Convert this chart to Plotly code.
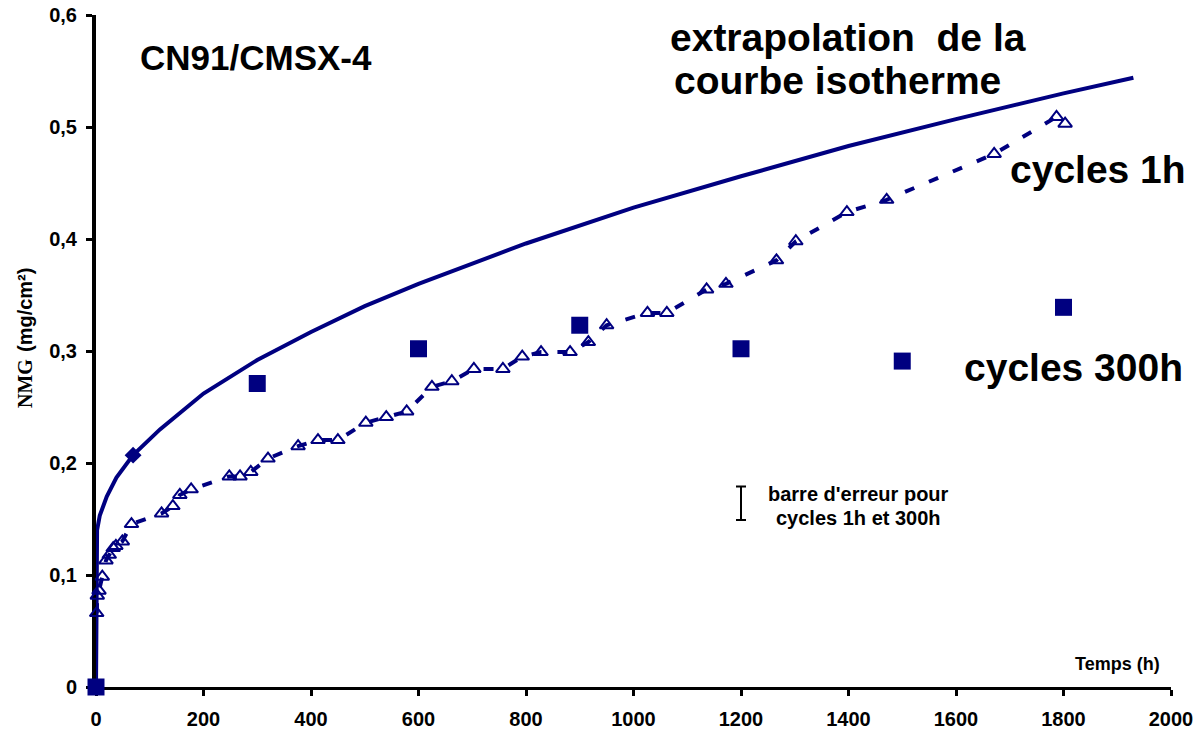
import plotly.graph_objects as go

# Isothermal oxidation curve (extrapolated), time in h, mass gain in mg/cm2
iso_t = [0, 0.3, 2, 7, 20, 38, 69, 119, 200, 300, 400, 500, 600, 800,
         1000, 1200, 1400, 1600, 1800, 1930]
iso_y = [0, 0.125, 0.14, 0.153, 0.170, 0.187, 0.207, 0.230, 0.262, 0.292,
         0.317, 0.340, 0.360, 0.396, 0.428, 0.456, 0.483, 0.507, 0.530, 0.544]

# Isothermal measured point
iso_pt_t = [69]
iso_pt_y = [0.207]

# 1 h cycles
c1_t = [1.3, 2.4, 5.6, 11.7, 18.6, 24.7, 32, 37, 49, 66, 122, 143, 156, 177,
        248, 268, 288, 320, 376, 413, 450, 502, 540, 578, 625, 662, 703, 757,
        793, 828, 882, 916, 950, 1026, 1062, 1136, 1172, 1266, 1302, 1397,
        1471, 1671, 1787, 1803]
c1_y = [0.066, 0.0815, 0.086, 0.0985, 0.113, 0.118, 0.124, 0.126, 0.130,
        0.1455, 0.155, 0.1615, 0.1715, 0.1765, 0.188, 0.188, 0.192, 0.204,
        0.215, 0.2205, 0.2205, 0.236, 0.241, 0.246, 0.268, 0.273, 0.284,
        0.284, 0.295, 0.299, 0.299, 0.308, 0.323, 0.334, 0.334, 0.355, 0.360,
        0.381, 0.398, 0.424, 0.435, 0.476, 0.509, 0.503]

# 300 h cycles
c300_t = [0, 300, 600, 900, 1200, 1500, 1800]
c300_y = [0, 0.271, 0.302, 0.323, 0.302, 0.291, 0.339]

# Error bar legend item
err_t = [1200]
err_y = [0.164]
err_half = [0.015]

x_ticks = [0, 200, 400, 600, 800, 1000, 1200, 1400, 1600, 1800, 2000]
x_labels = ["0", "200", "400", "600", "800", "1000", "1200", "1400", "1600", "1800", "2000"]
y_ticks = [0, 0.1, 0.2, 0.3, 0.4, 0.5, 0.6]
y_labels = ["0", "0,1", "0,2", "0,3", "0,4", "0,5", "0,6"]

NAVY = "#000080"
FONT = "Liberation Sans, Arial, sans-serif"
SERIF = "Liberation Serif, Times New Roman, serif"

fig = go.Figure()

fig.add_trace(go.Scatter(x=iso_t, y=iso_y, mode="lines",
                         line=dict(color=NAVY, width=4), hoverinfo="skip"))
fig.add_trace(go.Scatter(x=iso_pt_t, y=iso_pt_y, mode="markers",
                         marker=dict(symbol="diamond", size=13, color=NAVY)))
fig.add_trace(go.Scatter(x=c1_t, y=c1_y, mode="lines",
                         line=dict(color=NAVY, width=4, dash="10px,16px")))
fig.add_trace(go.Scatter(x=c1_t, y=c1_y, mode="markers", cliponaxis=False,
                         marker=dict(symbol="triangle-up-open", size=12,
                                     color=NAVY, line=dict(width=2, color=NAVY))))
fig.add_trace(go.Scatter(x=c300_t, y=c300_y, mode="markers", cliponaxis=False,
                         marker=dict(symbol="square", size=17, color=NAVY,
                                     line=dict(width=0))))
fig.add_trace(go.Scatter(x=err_t, y=err_y, mode="markers",
                         marker=dict(size=1, opacity=0),
                         error_y=dict(type="data", array=err_half, color="black",
                                      thickness=2, width=5)))

L, R, T, B = 96, 33, 15, 46
W, H = 1204, 733
pw, ph = W - L - R, H - T - B


def px(x):
    return (x - L) / pw


def py(y):
    return (H - B - y) / ph


def note(text, x, y, size, xanchor="left", family=FONT, angle=0):
    fig.add_annotation(text=text, xref="paper", yref="paper", x=px(x), y=py(y),
                       xanchor=xanchor, yanchor="middle", showarrow=False,
                       textangle=angle,
                       font=dict(family=family, size=size, color="black"))


note("<b>CN91/CMSX-4</b>", 138, 57, 35)
note("<b>extrapolation  de la</b>", 668, 38, 39)
note("<b>courbe isotherme</b>", 672, 80, 39)
note("<b>cycles 1h</b>", 1008, 170, 39)
note("<b>cycles 300h</b>", 962, 367, 39)
note("<b>barre d'erreur pour</b>", 858, 494, 20, "center")
note("<b>cycles 1h et 300h</b>", 858, 518, 20, "center")
note("<b>Temps (h)</b>", 1073, 664, 18)

# Rotated y-axis title: serif "NMG" followed by the unit in sans-serif
note("<b>NMG</b>", 25, 384, 20, "center", SERIF, -90)
note("<b>(mg/cm²)</b>", 25, 310, 20, "center", FONT, -90)

fig.update_layout(
    width=W, height=H, showlegend=False,
    margin=dict(l=L, r=R, t=T, b=B, pad=0, autoexpand=False),
    paper_bgcolor="white", plot_bgcolor="white",
    xaxis=dict(range=[0, 2000], tickvals=x_ticks, ticktext=x_labels,
               automargin=False,
               showgrid=False, zeroline=False, showline=True, linecolor="black",
               linewidth=3, ticks="outside", ticklen=6, tickwidth=3,
               tickcolor="black", ticklabelstandoff=6, layer="below traces",
               tickfont=dict(family=FONT, size=20, color="black", weight="bold")),
    yaxis=dict(range=[0, 0.6], tickvals=y_ticks, ticktext=y_labels,
               automargin=False,
               showgrid=False, zeroline=False, showline=True, linecolor="black",
               linewidth=4, ticks="outside", ticklen=6, tickwidth=3,
               tickcolor="black", ticklabelstandoff=5, layer="below traces",
               tickfont=dict(family=FONT, size=20, color="black", weight="bold")),
)

fig.write_html("out.html")
